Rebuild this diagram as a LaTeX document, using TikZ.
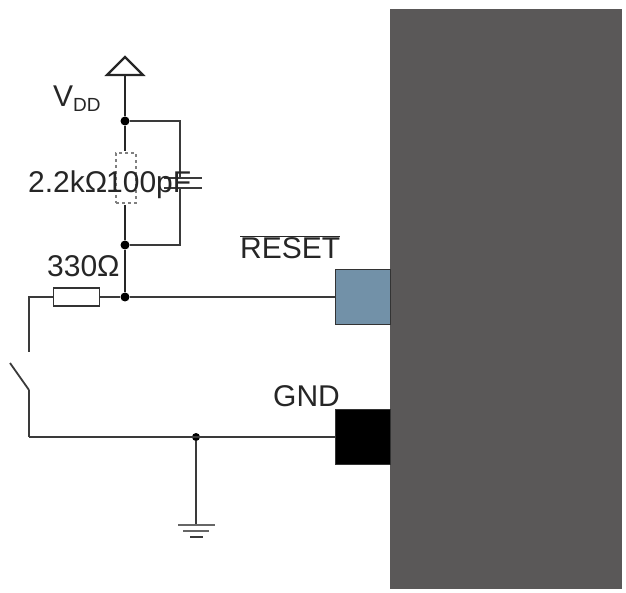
\documentclass[tikz,border=0pt]{standalone}
\usepackage{fontspec}
\setmainfont{Liberation Sans}
\usetikzlibrary{positioning}
\definecolor{bodygray}{HTML}{5A5858}
\definecolor{pinblue}{HTML}{7291A8}
\definecolor{wiregray}{HTML}{3A3A3A}
\tikzset{
  label text/.style={font=\fontsize{30}{32}\selectfont, text=black!85, inner sep=0pt},
  wire/.style={draw=wiregray, line width=1.8pt},
  heavy/.style={draw=black!85, line width=2.8pt},
  dot/.style={circle, fill=black, inner sep=0pt, minimum size=9pt},
  pin/.style={draw=black!80, line width=1.8pt, inner sep=0pt, minimum width=55pt, minimum height=55pt}
}
\begin{document}
\begin{tikzpicture}[x=1pt, y=-1pt]
  \useasboundingbox (0,0) rectangle (626,593);
  % chip and pins
  \node[fill=bodygray, inner sep=0pt, minimum width=232pt, minimum height=580pt] (chip) at (506,299) {};
  \node[pin, fill=pinblue] (prst) at (363,297) {};
  \node[pin, fill=black] (pgnd) at (363,437) {};
  % junctions
  \node[dot] (j1) at (125,121) {};
  \node[dot] (j2) at (125,245) {};
  \node[dot] (j3) at (125,297) {};
  \node[dot, minimum size=8pt] (j4) at (196,437) {};
  % vdd arrow
  \coordinate (vl) at (107,75);
  \coordinate (vr) at (143,75);
  \coordinate (vt) at (125,57);
  \coordinate (vb) at (125,75);
  \draw[draw=black!85, line width=2.2pt] (vl) -- (vt) -- (vr) -- cycle;
  % pull up resistor and capacitor
  \node[draw=black!50, dashed, line width=1.6pt, fill=white, inner sep=0pt, minimum width=20pt, minimum height=50pt] (rup) at (126,178) {};
  \coordinate (r1) at (125,151);
  \coordinate (r2) at (125,205);
  \coordinate (c1) at (180,178);
  \coordinate (c2) at (180,188);
  \coordinate (c1l) at (164,178);
  \coordinate (c1r) at (202,178);
  \coordinate (c2l) at (164,188);
  \coordinate (c2r) at (202,188);
  \draw[heavy] (vb) -- (j1);
  \draw[heavy] (j1) -- (r1);
  \draw[heavy] (r2) -- (j2);
  \draw[heavy] (j2) -- (j3);
  \draw[wire] (j1) -| (c1);
  \draw[wire] (c2) |- (j2);
  \draw[wire, line width=2.6pt] (j2) -- (j2 -| c2);
  \draw[wire, line width=2.2pt] (c1l) -- (c1r);
  \draw[wire, line width=2.2pt] (c2l) -- (c2r);
  % reset line with switch
  \node[draw=black!80, line width=1.8pt, fill=white, inner sep=0pt, minimum width=46pt, minimum height=18pt] (rs) at (76.5,297) {};
  \coordinate (s1) at (29,352);
  \coordinate (s2) at (29,390);
  \coordinate (s3) at (10,363);
  \coordinate (s4) at (29,437);
  \draw[wire] (j3) -- (prst);
  \draw[wire] (rs) -- (j3);
  \draw[wire] (rs) -| (s1);
  \draw[wire] (s3) -- (s2);
  \draw[wire] (s2) -- (s4);
  \draw[wire] (s4) -- (pgnd);
  % ground
  \coordinate (g1) at (196,525);
  \coordinate (g1l) at (178,525);
  \coordinate (g1r) at (215,525);
  \coordinate (g2l) at (183,531);
  \coordinate (g2r) at (209,531);
  \coordinate (g3l) at (190,537);
  \coordinate (g3r) at (203,537);
  \draw[wire] (j4) -- (g1);
  \draw[wire, draw=black!60] (g1l) -- (g1r);
  \draw[wire, draw=black!60] (g2l) -- (g2r);
  \draw[wire, line width=2.4pt] (g3l) -- (g3r);
  % labels
  \node[label text, anchor=base west] (lvdd) at (53,107) {V\raisebox{-0.3ex}{\fontsize{19}{20}\selectfont DD}};
  \node[label text, anchor=base west] (lr) at (28,193) {2.2kΩ};
  \node[label text, anchor=base west] (lc) at (106,193) {100pF};
  \node[label text, anchor=base west] (l330) at (47,277) {330Ω};
  \node[label text, anchor=base west] (lrst) at (240,259) {$\overline{\mbox{RESET}}$};
  \node[label text, anchor=base west] (lgnd) at (273,406) {GND};
\end{tikzpicture}
\end{document}
